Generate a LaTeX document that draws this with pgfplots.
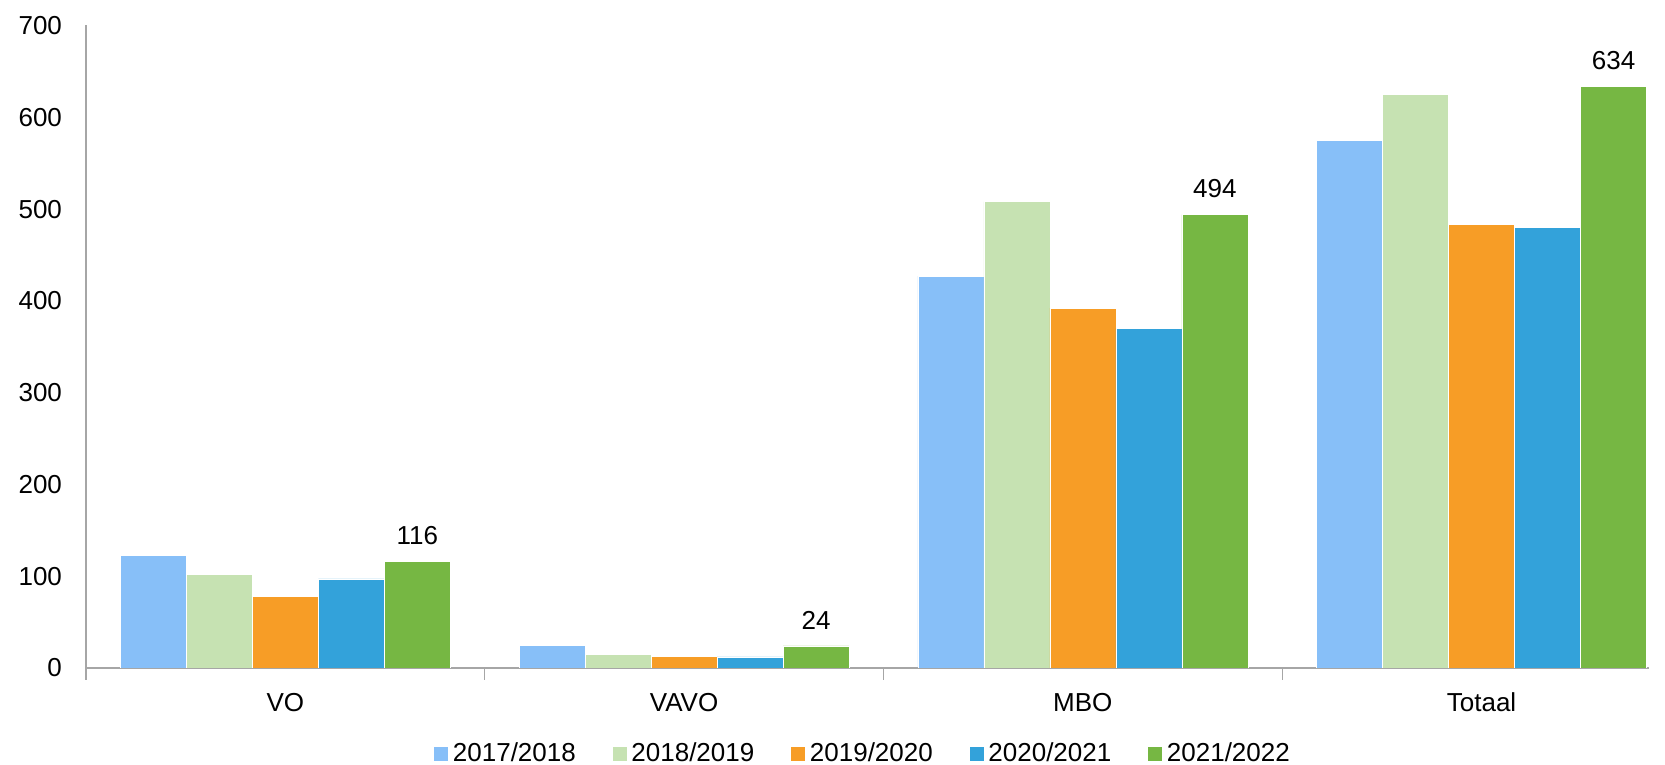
\documentclass[border=0pt]{standalone}
\usepackage{pgfplots}
\pgfplotsset{compat=1.18}
\usepackage{fontspec}
\setmainfont{Liberation Sans}
\definecolor{cA}{HTML}{87BFF8}
\definecolor{cB}{HTML}{C6E2B2}
\definecolor{cC}{HTML}{F79D26}
\definecolor{cD}{HTML}{33A2DA}
\definecolor{cE}{HTML}{76B743}
\definecolor{axgray}{HTML}{A6A6A6}
\begin{document}
\begin{tikzpicture}
\begin{axis}[
  scale only axis,
  width=781.5pt, height=321.25pt,
  ybar=0pt, bar width=33pt,
  xmin=-0.5, xmax=3.42, ymin=0, ymax=700,
  xtick={0,1,2,3},
  xticklabels={VO,VAVO,MBO,Totaal},
  major x tick style={draw=none},
  minor xtick={-0.5,0.5,1.5,2.5},
  minor x tick style={draw=axgray, line width=0.6pt},
  tick align=outside,
  major tick length=6pt,
  minor tick length=6pt,
  ytick={0,100,...,700},
  major y tick style={draw=none},
  axis x line*=bottom, axis y line*=left,
  axis line style={draw=axgray, line width=0.8pt, -},
  x axis line style={-}, y axis line style={-},
  font=\fontsize{13}{15}\selectfont,
  tick label style={font=\fontsize{13}{15}\selectfont},
  /pgf/number format/assume math mode=true,
  yticklabel style={xshift=-2.5pt},
  xticklabel style={yshift=-3pt},
  legend style={at={(0.4975,-0.133)}, anchor=center, draw=none, legend columns=5,
    font=\fontsize{13}{15}\selectfont,
    /tikz/every even column/.append style={column sep=16pt}},
  legend image code/.code={\fill[#1] (0pt,-3.75pt) rectangle (7.5pt,3.75pt);},
  nodes near coords style={font=\fontsize{13}{15}\selectfont, text=black, yshift=4.7pt},
]
\addplot[fill=cA, draw=white, line width=0.3pt] coordinates {(0,123) (1,25) (2,427) (3,575)};
\addplot[fill=cB, draw=white, line width=0.3pt] coordinates {(0,102) (1,15) (2,508) (3,625)};
\addplot[fill=cC, draw=white, line width=0.3pt] coordinates {(0,78) (1,13) (2,392) (3,483)};
\addplot[fill=cD, draw=white, line width=0.3pt] coordinates {(0,97) (1,12) (2,370) (3,480)};
\addplot[fill=cE, draw=white, line width=0.3pt, nodes near coords] coordinates {(0,116) (1,24) (2,494) (3,634)};
\legend{2017/2018,2018/2019,2019/2020,2020/2021,2021/2022}
\end{axis}
\pgfresetboundingbox
\path[use as bounding box] ([shift={(-43pt,-48.5pt)}]current axis.south west) rectangle ([shift={(8pt,12.75pt)}]current axis.north east);
\end{tikzpicture}
\end{document}
